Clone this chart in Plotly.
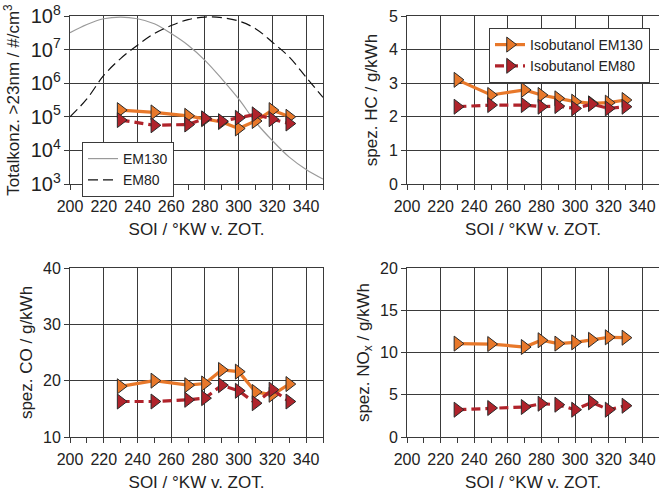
import plotly.graph_objects as go

# ---------------- data ----------------
soi_curve = [200, 210, 220, 230, 240, 250, 260, 270, 280, 290, 300, 310, 320, 330, 340, 350]
pn_em130_curve = [3.2e7, 5.6e7, 8.3e7, 9.3e7, 8.3e7, 5.9e7, 3.0e7, 1.35e7, 4.8e6, 1.35e6,
                  3.4e5, 7.0e4, 1.95e4, 6.3e3, 2.7e3, 1.4e3]
pn_em80_curve = [1.0e5, 3.4e5, 1.7e6, 5.4e6, 1.35e7, 3.0e7, 5.2e7, 7.8e7, 9.3e7, 8.9e7,
                 7.1e7, 4.2e7, 1.66e7, 6.0e6, 1.5e6, 3.8e5]

soi = [230, 250, 270, 280, 290, 300, 310, 320, 330]
pn_em130 = [1.58e5, 1.35e5, 1.07e5, 8.5e4, 7.0e4, 4.5e4, 7.5e4, 1.58e5, 1.0e5]
pn_em80 = [8.0e4, 5.6e4, 5.9e4, 9.0e4, 7.4e4, 9.3e4, 1.18e5, 8.5e4, 6.3e4]
hc_em130 = [3.1, 2.65, 2.8, 2.65, 2.55, 2.45, 2.4, 2.42, 2.5]
hc_em80 = [2.3, 2.35, 2.35, 2.3, 2.32, 2.25, 2.38, 2.25, 2.3]
co_em130 = [19.0, 20.0, 19.2, 19.5, 21.9, 21.6, 18.0, 17.5, 19.4]
co_em80 = [16.3, 16.3, 16.6, 16.9, 19.2, 18.2, 16.0, 18.4, 16.3]
nox_em130 = [11.05, 11.0, 10.65, 11.45, 11.05, 11.2, 11.5, 11.8, 11.75]
nox_em80 = [3.23, 3.43, 3.55, 3.94, 3.82, 3.23, 4.1, 3.23, 3.7]

x_ticks = [200, 220, 240, 260, 280, 300, 320, 340]

# ---------------- style ----------------
FONT = "Liberation Sans, Arial, Helvetica, sans-serif"
ORANGE = "#E8782A"
RED = "#B0232B"
GRID = "#3a3a3a"
TICK_FS = 16
TITLE_FS = 17

fig = go.Figure()

def add_pair(xa, ya, y130, y80, show):
    fig.add_trace(go.Scatter(
        x=soi, y=y130, xaxis=xa, yaxis=ya, mode="lines+markers",
        name="Isobutanol EM130", legend="legend2", showlegend=show,
        line=dict(color=ORANGE, width=3.2),
        marker=dict(symbol="triangle-right", size=13, color=ORANGE,
                    line=dict(color="#2a2a2a", width=1))))
    fig.add_trace(go.Scatter(
        x=soi, y=y80, xaxis=xa, yaxis=ya, mode="lines+markers",
        name="Isobutanol EM80", legend="legend2", showlegend=show,
        line=dict(color=RED, width=3.2, dash="9px,5px"),
        marker=dict(symbol="triangle-right", size=13, color=RED,
                    line=dict(color="#2a2a2a", width=1))))

# top-left: particle number
fig.add_trace(go.Scatter(x=soi_curve, y=pn_em130_curve, xaxis="x", yaxis="y",
                         mode="lines", name="EM130", legend="legend",
                         line=dict(color="#9a9a9a", width=1.2, shape="spline")))
fig.add_trace(go.Scatter(x=soi_curve, y=pn_em80_curve, xaxis="x", yaxis="y",
                         mode="lines", name="EM80", legend="legend",
                         line=dict(color="#111111", width=1.2, dash="10px,5px", shape="spline")))
add_pair("x", "y", pn_em130, pn_em80, False)
add_pair("x2", "y2", hc_em130, hc_em80, True)
add_pair("x3", "y3", co_em130, co_em80, False)
add_pair("x4", "y4", nox_em130, nox_em80, False)

W, H = 659, 493

def px_x(p):
    return p / W

def px_y(p):
    return 1 - p / H

xl = [px_x(70), px_x(323)]
xr = [px_x(407), 1.0]
yt = [px_y(184), px_y(16)]
yb = [px_y(437), px_y(268)]

def xaxis(domain, anchor):
    return dict(
        domain=domain, anchor=anchor, range=[200, 350], automargin=False,
        tickvals=x_ticks, ticks="outside", ticklen=5, tickcolor=GRID,
        ticklabelstandoff=3, ticklabeloverflow="allow",
        showgrid=True, gridcolor=GRID, gridwidth=1,
        showline=True, linecolor=GRID, linewidth=1, mirror=True,
        zeroline=False,
        minor=dict(dtick=10, tick0=200, ticks="outside", ticklen=5, tickcolor=GRID, showgrid=False),
        tickfont=dict(family=FONT, size=TICK_FS, color="#222"),
        title=dict(text="SOI / °KW v. ZOT.", font=dict(family=FONT, size=TITLE_FS, color="#222"),
                   standoff=8),
    )

def yaxis(domain, anchor, title, rng, dtick, log=False):
    d = dict(
        domain=domain, anchor=anchor, range=rng, dtick=dtick, automargin=False,
        ticks="outside", ticklen=5, tickcolor=GRID, ticklabeloverflow="allow",
        showgrid=True, gridcolor=GRID, gridwidth=1,
        showline=True, linecolor=GRID, linewidth=1, mirror=True,
        zeroline=False,
        tickfont=dict(family=FONT, size=TICK_FS, color="#222"),
        title=dict(text=title, font=dict(family=FONT, size=TITLE_FS, color="#222"), standoff=6),
    )
    if log:
        d["type"] = "log"
        d["exponentformat"] = "power"
    return d

fig.update_layout(
    width=W, height=H,
    margin=dict(l=0, r=0, t=0, b=0, autoexpand=False),
    paper_bgcolor="white", plot_bgcolor="white",
    font=dict(family=FONT, color="#222"),
    xaxis=xaxis(xl, "y"),
    xaxis2=xaxis(xr, "y2"),
    xaxis3=xaxis(xl, "y3"),
    xaxis4=xaxis(xr, "y4"),
    yaxis=yaxis(yt, "x", "Totalkonz. >23nm / #/cm<sup>3</sup>", [3, 8], 1, log=True),
    yaxis2=yaxis(yt, "x2", "spez. HC / g/kWh", [0, 5], 1),
    yaxis3=yaxis(yb, "x3", "spez. CO / g/kWh", [10, 40], 10),
    yaxis4=yaxis(yb, "x4", "spez. NO<sub>x</sub> / g/kWh", [0, 20], 5),
    legend=dict(x=px_x(82), y=px_y(142), xanchor="left", yanchor="top",
                bgcolor="white", bordercolor=GRID, borderwidth=1,
                font=dict(family=FONT, size=14, color="#222"), tracegroupgap=0),
    legend2=dict(x=px_x(489), y=px_y(28), xanchor="left", yanchor="top",
                 bgcolor="white", bordercolor=GRID, borderwidth=1,
                 font=dict(family=FONT, size=14, color="#222"), tracegroupgap=0),
    showlegend=True,
)

fig.write_html("out.html", config={"displayModeBar": False},
               post_script="document.body.style.margin='0px';")
